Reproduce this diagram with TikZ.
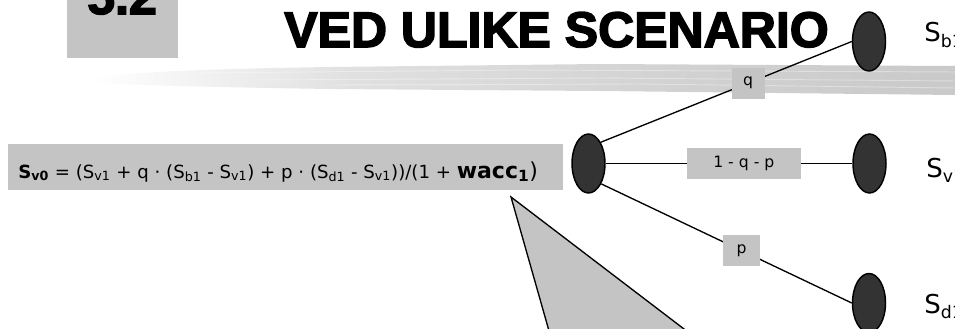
\documentclass[tikz,border=0pt]{standalone}
\usepackage{fontspec}
\setmainfont{DejaVu Sans}
\newfontfamily\titlefont{Liberation Sans}[BoldFeatures={FakeBold=3}]
\usetikzlibrary{shapes.geometric}
\definecolor{boxgray}{RGB}{196,196,196}
\definecolor{nodefill}{RGB}{51,51,51}
\pgfdeclarehorizontalshading{brushshade}{100bp}{color(0bp)=(white); color(25bp)=(white); color(40bp)=(black!12); color(60bp)=(black!18); color(75bp)=(black!21); color(100bp)=(black!21)}
\newcommand{\lsub}[1]{\raisebox{-0.22em}{\fontsize{13}{14}\selectfont #1}}
\begin{document}
\begin{tikzpicture}[x=0.75pt,y=-0.75pt,
  state/.style={ellipse, draw=black, line width=1.1pt, fill=nodefill, minimum width=24.75pt, minimum height=44.25pt, inner sep=0pt},
  problab/.style={fill=boxgray, inner sep=0pt, font=\fontsize{11.75}{13}\selectfont, text=black, minimum height=23.25pt},
  leaf/.style={anchor=base west, font=\fontsize{19.5}{22}\selectfont, inner sep=0pt},
  conn/.style={draw=black, line width=1pt},
  streak/.style={white, line width=0.7pt, opacity=0.35},
  headfont/.style={font=\titlefont\bfseries\fontsize{37.5}{40}\selectfont}]
\useasboundingbox (0,0) rectangle (955,328);
\begin{scope}
\clip (0,0) rectangle (955,328);
% brush stroke
\shade[shading=brushshade] (90,80) .. controls (120,72) and (200,69) .. (330,67) -- (600,64) -- (955,66) -- (955,95) -- (600,91) -- (330,89) .. controls (200,87) and (120,85) .. (90,82) -- cycle;
\draw[streak] (200,73) -- (520,70) -- (955,72);
\draw[streak] (260,80) -- (600,78) -- (955,81);
\draw[streak] (330,85) -- (640,84) -- (955,88);
% section number box
\fill[boxgray] (67,-5) rectangle (178,58);
\node[anchor=base, inner sep=0pt, headfont] (num) at (122,14) {5.2};
% title
\node[anchor=base west, inner sep=0pt, headfont] (title) at (284,47) {VED ULIKE SCENARIO};
% callout triangle
\filldraw[fill=boxgray, draw=black, line width=1pt] (511,197) -- (553,345) -- (705,345) -- cycle;
% formula
\fill[boxgray] (8,144) rectangle (563,190);
\node[anchor=base west, inner sep=0pt, font=\fontsize{13.6}{16}\selectfont] (formula) at (18,178)
  {{\bfseries S\textsubscript{v0}} = (S\textsubscript{v1} + q · (S\textsubscript{b1} - S\textsubscript{v1}) + p · (S\textsubscript{d1} - S\textsubscript{v1}))/(1 + {\fontsize{16.5}{20}\selectfont{\bfseries wacc\textsubscript{1}})}};
% states
\node[state] (e0) at (588.5,163.5) {};
\node[state] (eb) at (869,41.5) {};
\node[state] (ev) at (869.5,163.5) {};
\node[state] (ed) at (869,303) {};
% connectors with probability labels
\draw[conn] (e0.60) -- node[problab, pos=0.587, minimum width=24.75pt] {q} (eb.west);
\draw[conn] (e0.east) -- node[problab, pos=0.56, minimum width=85.5pt] {1 - q - p} (ev.west);
\draw[conn] (e0.-58) -- node[problab, pos=0.56, minimum width=27.75pt] {p} (ed.west);
% leaf values
\node[leaf] (sb) at (924,42) {S\lsub{b1}};
\node[leaf] (sv) at (926,177) {S\lsub{v1}};
\node[leaf] (sd) at (924,313) {S\lsub{d1}};
\end{scope}
\end{tikzpicture}
\end{document}
